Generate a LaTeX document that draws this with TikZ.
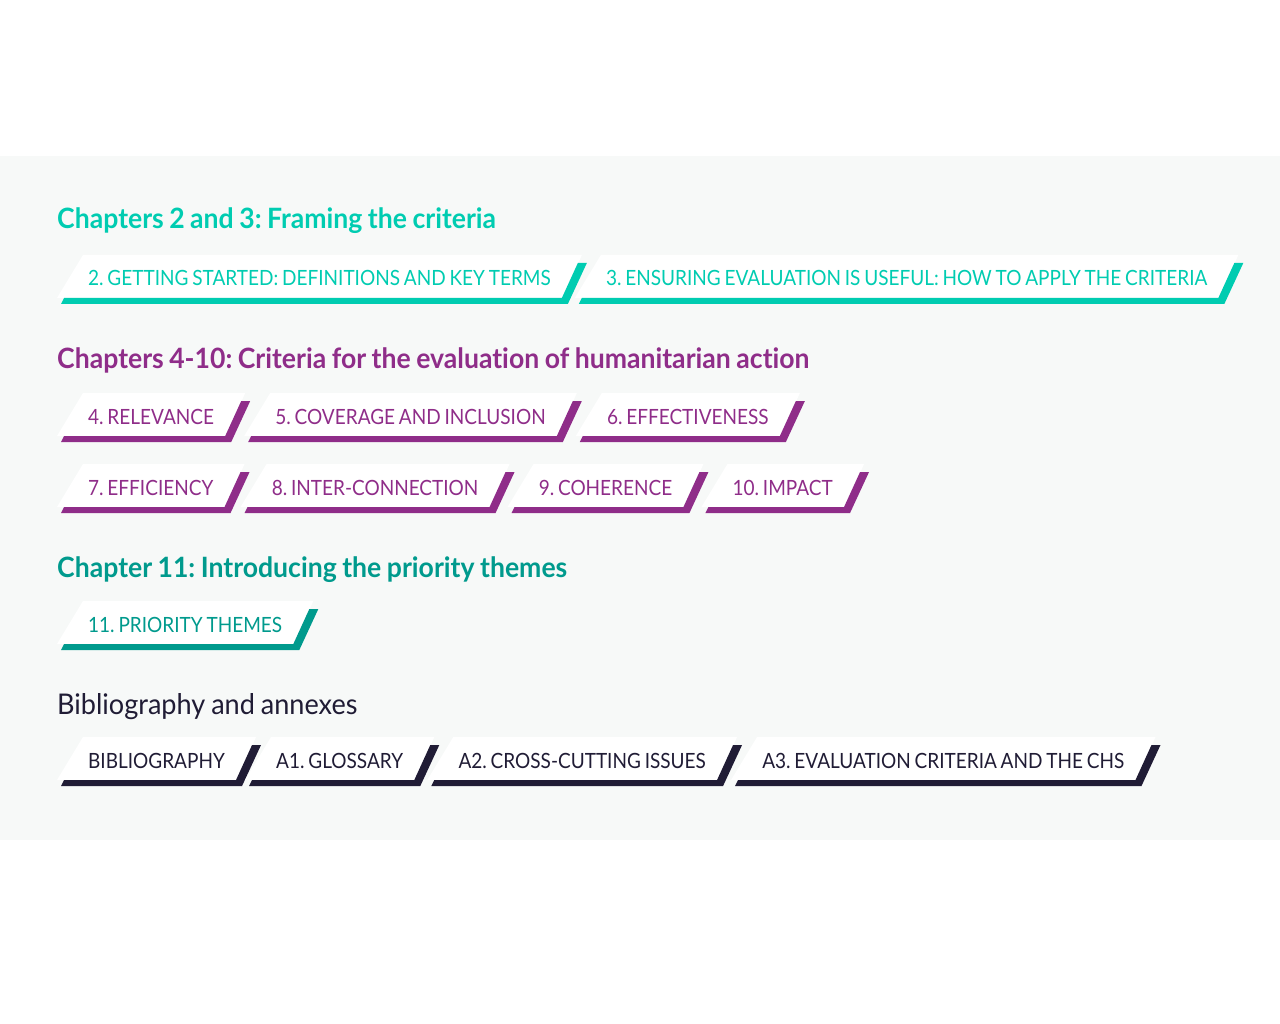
\documentclass[tikz,border=0pt]{standalone}
\usepackage{fontspec}
\setmainfont{Lato}[Ligatures=NoCommon]
\newfontfamily\headfont{Lato}[Ligatures=NoCommon, FakeStretch=0.95, WordSpace=0.85]
\newfontfamily\tabfont{Lato}[Ligatures=NoCommon, FakeStretch=0.905, WordSpace=0.78]
\usepackage{tikz}
\usetikzlibrary{calc,positioning,backgrounds}
\definecolor{teal1}{HTML}{00CCB1}
\definecolor{purp}{HTML}{8F2D89}
\definecolor{teal2}{HTML}{009A8D}
\definecolor{navy}{HTML}{201C35}
\definecolor{band}{HTML}{F7F9F8}
\frenchspacing

% white tab with coloured bar and slash, drawn behind the label node #1
\newcommand{\tabshape}[2]{%
  \begin{scope}[on background layer]
    \fill[white] ($(#1.base west)+(-5,-31)$) -- ($(#1.base east)+(31,-31)$) -- ($(#1.base east)+(12,12)$) -- ($(#1.base west)+(-31,12)$) -- cycle;
    \fill[#2] ($(#1.base west)+(-27,18)$) -- ($(#1.base east)+(17,18)$) -- ($(#1.base east)+(36,-23)$) -- ($(#1.base east)+(27,-23)$) -- ($(#1.base east)+(11,12)$) -- ($(#1.base west)+(-24,12)$) -- cycle;
  \end{scope}}

\begin{document}
\begin{tikzpicture}[x=1pt,y=-1pt,
    heading/.style={anchor=base west, inner sep=0pt, font=\headfont\fontsize{28}{30}\selectfont\bfseries},
    tablabel/.style={anchor=base west, inner sep=0pt, font=\tabfont\fontsize{21}{24}\selectfont},
    node distance=58pt]
  \useasboundingbox (0,0) rectangle (1280,1024);
  \begin{scope}[on background layer]
    \fill[band] (0,156) rectangle (1280,840);
  \end{scope}

  % chapters 2 and 3
  \node (head1) [heading, text=teal1] at (57,229) {Chapters 2 and 3: Framing the criteria};
  \node (ch2) [tablabel, text=teal1] at (88,286) {2. GETTING STARTED: DEFINITIONS AND KEY TERMS};
  \node (ch3) [tablabel, text=teal1, base right=55pt of ch2] {3. ENSURING EVALUATION IS USEFUL: HOW TO APPLY THE CRITERIA};
  \tabshape{ch2}{teal1}
  \tabshape{ch3}{teal1}

  % chapters 4-10
  \node (head2) [heading, text=purp] at (57,369) {Chapters 4-10: Criteria for the evaluation of humanitarian action};
  \node (ch4) [tablabel, text=purp] at (88,424) {4. RELEVANCE};
  \node (ch5) [tablabel, text=purp, base right=61pt of ch4] {5. COVERAGE AND INCLUSION};
  \node (ch6) [tablabel, text=purp, base right=61pt of ch5] {6. EFFECTIVENESS};
  \node (ch7) [tablabel, text=purp] at (88,495) {7. EFFICIENCY};
  \node (ch8) [tablabel, text=purp, base right=of ch7] {8. INTER-CONNECTION};
  \node (ch9) [tablabel, text=purp, base right=60pt of ch8] {9. COHERENCE};
  \node (ch10) [tablabel, text=purp, base right=60pt of ch9] {10. IMPACT};
  \foreach \c in {ch4,ch5,ch6,ch7,ch8,ch9,ch10}
    \tabshape{\c}{purp};

  % chapter 11
  \node (head3) [heading, text=teal2] at (57,577) {Chapter 11: Introducing the priority themes};
  \node (ch11) [tablabel, text=teal2] at (88,632) {11. PRIORITY THEMES};
  \tabshape{ch11}{teal2}

  % annexes
  \node (head4) [heading, text=navy, font=\headfont\fontsize{28.5}{30}\selectfont] at (57,714) {Bibliography and annexes};
  \node (bib) [tablabel, text=navy] at (88,768) {BIBLIOGRAPHY};
  \node (a1) [tablabel, text=navy, base right=51pt of bib] {A1. GLOSSARY};
  \node (a2) [tablabel, text=navy, base right=55pt of a1] {A2. CROSS-CUTTING ISSUES};
  \node (a3) [tablabel, text=navy, base right=56pt of a2] {A3. EVALUATION CRITERIA AND THE CHS};
  \foreach \c in {bib,a1,a2,a3}
    \tabshape{\c}{navy};
\end{tikzpicture}
\end{document}
